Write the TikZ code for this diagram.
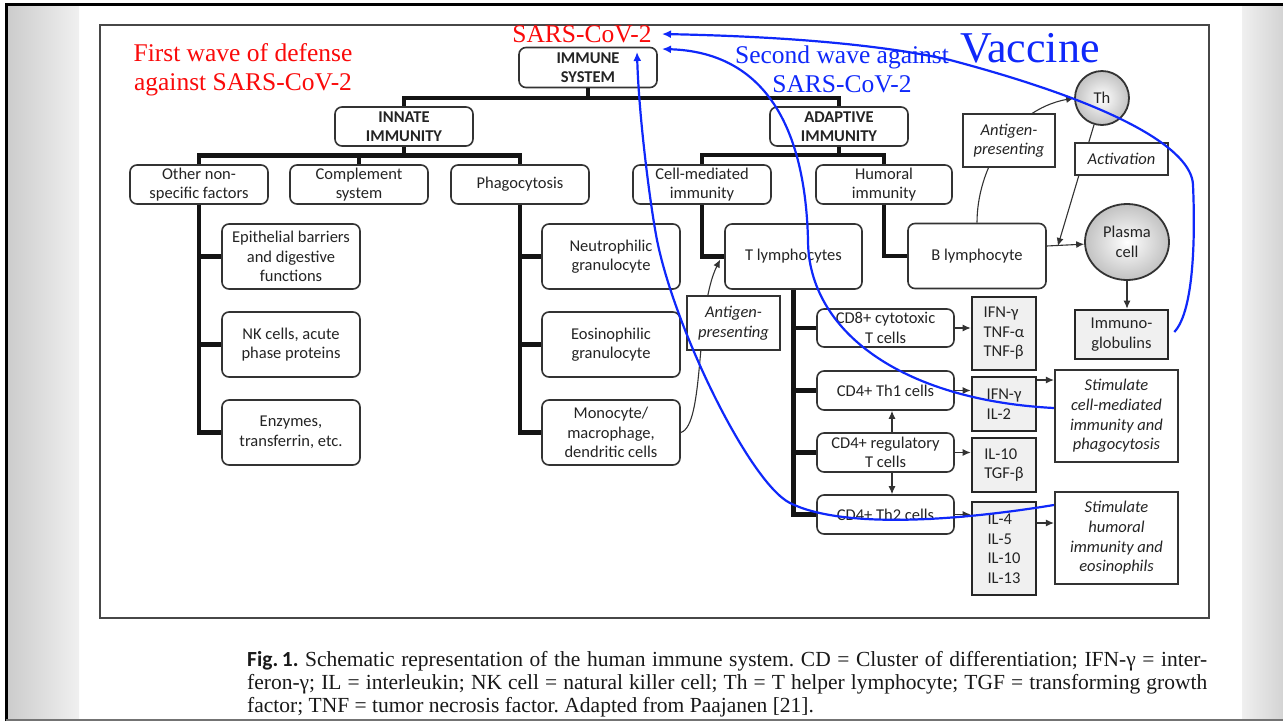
\documentclass[tikz,border=0pt]{standalone}
\usepackage{fontspec}
\setmainfont{Liberation Serif}
\setsansfont{Carlito}
\usetikzlibrary{arrows.meta,shapes.geometric,calc}
\definecolor{bx}{HTML}{333333}
\definecolor{tx}{HTML}{242424}
\definecolor{myblue}{RGB}{15,40,250}
\definecolor{myred}{RGB}{250,10,10}
\definecolor{cytfill}{HTML}{F0F0F0}
\begin{document}
\begin{tikzpicture}[x=1pt,y=-1pt,
 wh/.style 2 args={minimum width=#1pt,minimum height=#2pt},
 rb/.style={draw=bx,line width=1.6pt,rounded corners=7pt,fill=white,align=center,text=tx,font=\sffamily\fontsize{16.5}{19.5}\selectfont,inner sep=0pt},
 hb/.style={rb,font=\sffamily\bfseries\fontsize{16.5}{19.5}\selectfont},
 cyt/.style={draw=black!85,line width=2.6pt,fill=cytfill,align=left,text=tx,font=\sffamily\fontsize{16.5}{19.5}\selectfont,inner sep=0pt,minimum width=64pt},
 stim/.style={draw=bx,line width=2.2pt,fill=white,align=center,text=tx,font=\sffamily\itshape\fontsize{16.5}{19.7}\selectfont,inner sep=0pt,minimum width=123pt,minimum height=92pt},
 lab/.style={draw=bx,line width=1.8pt,fill=white,align=center,text=tx,font=\sffamily\itshape\fontsize{16.5}{19.5}\selectfont,inner sep=0pt},
 cell/.style={draw=bx,line width=1.8pt,inner color=white,outer color=black!24,align=center,text=tx,font=\sffamily\fontsize{16.5}{19.5}\selectfont,inner sep=0pt},
 tl/.style={line width=4.6pt,draw=black!92},
 arr/.style={draw=bx,line width=1.1pt,-{Latex[length=8pt,width=7pt]}},
 blu/.style={draw=myblue,line width=2.2pt,-{Latex[length=9pt,width=8pt]}},
 ovl/.style={font=\fontsize{25.5}{29}\selectfont,align=center,inner sep=0pt}
]
\useasboundingbox (0,0) rectangle (1283,721);
% slide background
\fill[white] (0,0) rectangle (1283,721);
\shade[left color=black!20,right color=black!6] (8,5) rectangle (79,718);
\shade[left color=black!6,right color=black!17] (1242,5) rectangle (1283,718);
\draw[black,line width=3pt] (6,721) -- (6,4) -- (1283,4);
\draw[black!55,line width=2pt] (6,719.5) -- (1283,719.5);
% figure frame
\draw[black!72,line width=2pt] (100,25) rectangle (1208.5,617.5);

% boxes
\node[hb,wh={138}{40}] (immune) at (588,67.5) {IMMUNE\\SYSTEM};
\node[hb,wh={138}{39}] (innate) at (404,126.5) {INNATE\\IMMUNITY};
\node[hb,wh={138}{39}] (adaptive) at (839,126.5) {ADAPTIVE\\IMMUNITY};
\node[rb,wh={138}{39}] (other) at (199,184.5) {Other non-\\specific factors};
\node[rb,wh={138}{39}] (compl) at (359,184.5) {Complement\\system};
\node[rb,wh={138}{39}] (phago) at (520,184.5) {Phagocytosis};
\node[rb,wh={138}{39}] (cellm) at (702,184.5) {Cell-mediated\\immunity};
\node[rb,wh={136}{39}] (humor) at (884,184.5) {Humoral\\immunity};
\node[rb,wh={138}{65}] (epi) at (291,256.5) {Epithelial barriers\\and digestive\\functions};
\node[rb,wh={138}{65}] (nk) at (291,344.5) {NK cells, acute\\phase proteins};
\node[rb,wh={138}{65}] (enz) at (291,432.5) {Enzymes,\\transferrin, etc.};
\node[rb,wh={138}{65}] (neut) at (611,256.5) {Neutrophilic\\granulocyte};
\node[rb,wh={138}{65}] (eos) at (611,344.5) {Eosinophilic\\granulocyte};
\node[rb,wh={138}{65}] (mono) at (611,432.5) {Monocyte/\\macrophage,\\dendritic cells};
\node[rb,wh={137}{65}] (tly) at (793.5,256.5) {T lymphocytes};
\node[rb,wh={138}{65}] (bly) at (977,256) {B lymphocyte};
\node[rb,wh={137}{38}] (cd8) at (885.5,328) {CD8+ cytotoxic\\T cells};
\node[rb,wh={137}{39}] (th1) at (885.5,390.5) {CD4+ Th1 cells};
\node[rb,wh={137}{39}] (treg) at (885.5,452.5) {CD4+ regulatory\\T cells};
\node[rb,wh={137}{39}] (th2) at (885.5,514.5) {CD4+ Th2 cells};
\node[cyt,minimum height=73pt] (cyt1) at (1004,333.5) {IFN-γ\\TNF-α\\TNF-β};
\node[cyt,minimum height=54pt] (cyt2) at (1004,404) {IFN-γ\\IL-2};
\node[cyt,minimum height=54pt] (cyt3) at (1004,465) {IL-10\\TGF-β};
\node[cyt,minimum height=93pt] (cyt4) at (1004,548.5) {IL-4\\IL-5\\IL-10\\IL-13};
\node[stim] (stim1) at (1116.5,416) {Stimulate\\cell-mediated\\immunity and\\phagocytosis};
\node[stim] (stim2) at (1116.5,538) {Stimulate\\humoral\\immunity and\\eosinophils};
\node[cyt,align=center,minimum width=93pt,minimum height=49pt] (immuno) at (1121.5,334.5) {Immuno-\\globulins};
\node[cell,ellipse,minimum width=84pt,minimum height=76pt] (plasma) at (1127,242) {Plasma\\cell};
\node[cell,circle,minimum size=54pt] (th) at (1102,98) {Th};

% thick tree connectors
\coordinate (jb) at ([yshift=-9.5pt]immune.south);
\coordinate (ji) at ([yshift=-8.5pt]innate.south);
\coordinate (ja) at ([yshift=-8pt]adaptive.south);
\draw[tl] (immune.south) -- (jb);
\draw[tl] (innate.north) |- (jb) -| (adaptive.north);
\draw[tl] (innate.south) -- (ji);
\draw[tl] (other.north) |- (ji) -| (phago.north);
\draw[tl] (compl.north) -- (compl.north |- ji);
\draw[tl] (adaptive.south) -- (ja);
\draw[tl] (cellm.north) |- (ja) -| (humor.north);
\draw[tl] (other.south) |- (enz.west);
\draw[tl] (other.south |- epi.west) -- (epi.west);
\draw[tl] (other.south |- nk.west) -- (nk.west);
\draw[tl] (phago.south) |- (mono.west);
\draw[tl] (phago.south |- neut.west) -- (neut.west);
\draw[tl] (phago.south |- eos.west) -- (eos.west);
\draw[tl] (cellm.south) |- (tly.west);
\draw[tl] (humor.south) |- (bly.west);
\draw[tl] (tly.south) |- (th2.west);
\draw[tl] (tly.south |- cd8.west) -- (cd8.west);
\draw[tl] (tly.south |- th1.west) -- (th1.west);
\draw[tl] (tly.south |- treg.west) -- (treg.west);

% thin arrows
\draw[arr] (cd8.east) -- (cd8.east -| cyt1.west);
\draw[arr] (th1.east) -- (th1.east -| cyt2.west);
\draw[arr] (treg.east) -- (treg.east -| cyt3.west);
\draw[arr] (th2.east) -- (th2.east -| cyt4.west);
\coordinate (c2o) at ([yshift=24pt]cyt2.east);
\draw[arr] (c2o) -- (c2o -| stim1.west);
\coordinate (c4o) at ([yshift=25.5pt]cyt4.east);
\draw[arr] (c4o) -- (c4o -| stim2.west);
\coordinate (t1) at ([xshift=6.5pt]treg.north);
\draw[arr] (t1) -- (t1 |- th1.south);
\coordinate (t2) at ([xshift=6.5pt]treg.south);
\draw[arr] (t2) -- (t2 |- th2.north);
\coordinate (b1) at ([yshift=10pt]bly.east);
\coordinate (b2) at ([xshift=11pt]b1);
\draw[arr] (b1) -- (plasma);
\draw[arr] (plasma.south) -- (plasma.south |- immuno.north);
\draw[arr] (th) -- (b2);
\draw[arr] (bly.north) .. controls (977,170) and (1010,110) .. (th.west);
\coordinate (tin) at ([xshift=-4pt,yshift=-3pt]tly.west);
\draw[arr] (mono.east) .. controls (705,425) and (695,310) .. (tin);

% labels sitting on the curves
\node[lab,wh={92}{53}] (ap1) at (1009,140.5) {Antigen-\\presenting};
\node[lab,wh={93}{32}] (act) at (1121.5,159) {Activation};
\node[lab,wh={93}{54}] (ap2) at (733.5,323) {Antigen-\\presenting};

% overlay annotations
\node[ovl,text=myred] (first) at (243,70) {First wave of defense\\against SARS-CoV-2};
\node[ovl,text=myred] (sars) at (582,34) {SARS-CoV-2};
\node[ovl,text=myblue] (second) at (842,69) {Second wave against\\SARS-CoV-2};
\node[font=\fontsize{44}{44}\selectfont,text=myblue,inner sep=0pt] (vac) at (1030,48) {Vaccine};
\coordinate (sv1) at (662,34);
\coordinate (sv2) at (662,49);
\coordinate (sv3) at (637,52);
\draw[blu] ([yshift=8pt]stim1.west) .. controls (900,400) and (808,330) .. (808,240) .. controls (805,120) and (760,52) .. (sv2);
\draw[blu] ([yshift=33pt]stim2.west) .. controls (950,522) and (840,528) .. (790,503) .. controls (750,483) and (675,330) .. (657,240) .. controls (651,210) and (639,120) .. (sv3);
\draw[blu] ([xshift=5pt,yshift=2.5pt]immuno.east) .. controls (1195,310) and (1195,230) .. (1193,185) .. controls (1192,150) and (1120,105) .. (950,60) .. controls (870,42) and (760,36) .. (sv1);

% caption
\node[anchor=north west,inner sep=0pt,text width=960pt,align=justify,font=\fontsize{21.5}{23}\selectfont,text=black!90] (cap) at (247,651) {\frenchspacing{\sffamily\bfseries Fig.\,1.} Schematic representation of the human immune system. CD = Cluster of differentiation; IFN-γ = inter-\linebreak feron-γ; IL = interleukin; NK cell = natural killer cell; Th = T helper lymphocyte; TGF = transforming growth\linebreak factor; TNF = tumor necrosis factor. Adapted from Paajanen [21].};
\end{tikzpicture}
\end{document}
